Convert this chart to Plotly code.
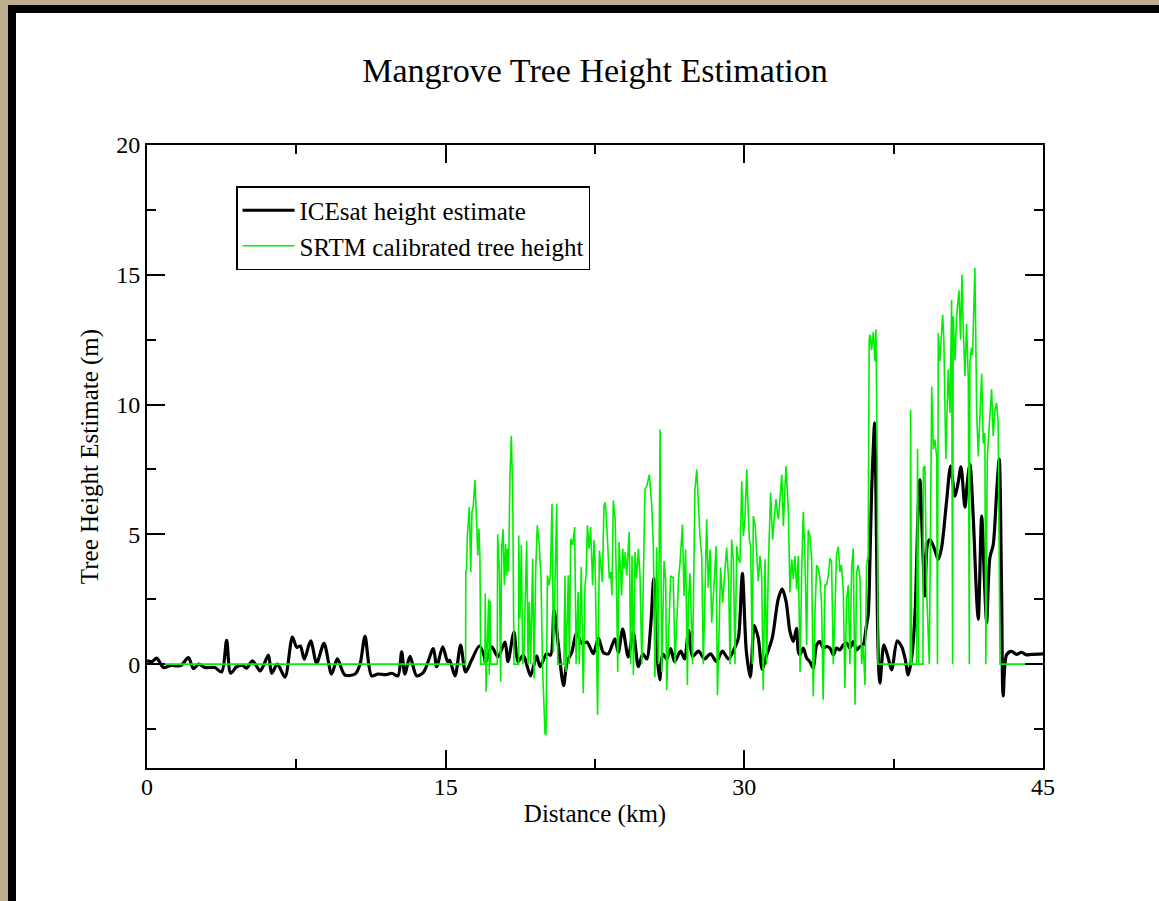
import plotly.graph_objects as go

# ---------------- data ----------------
ICESAT_X = [0, 0.25, 0.49, 0.82, 1.2, 1.7, 2.08, 2.33, 2.6, 2.9, 3.4, 3.75, 4.0, 4.2, 4.5, 4.8, 5.0, 5.3,
            5.68, 5.85, 6.1, 6.26, 6.55, 6.93, 7.3, 7.52, 7.7, 7.9, 8.22, 8.52, 8.89, 9.27, 9.56, 9.94,
            10.45, 10.7, 10.95, 11.28, 11.6, 12.0, 12.3, 12.6, 12.79, 12.95, 13.21, 13.54, 13.9, 14.38,
            14.55, 14.85, 15.1, 15.2, 15.47, 15.75, 16.0, 16.3, 16.69, 16.95, 17.0, 17.31, 17.63, 17.98,
            18.13, 18.43, 18.63, 18.9, 19.1, 19.27, 19.57, 19.74, 20.07, 20.27, 20.44, 20.66, 20.92, 21.1,
            21.33, 21.58, 21.83, 22.1, 22.42, 22.67, 22.92, 23.17, 23.5, 23.67, 23.89, 24.17, 24.42, 24.68,
            24.9, 25.1, 25.3, 25.45, 25.6, 25.75, 25.9, 26.1, 26.3, 26.5, 26.8, 27.0, 27.2, 27.4, 27.7,
            28.0, 28.3, 28.6, 28.9, 29.2, 29.5, 29.7, 29.9, 30.1, 30.3, 30.5, 30.7, 30.9, 31.1, 31.4, 31.7,
            31.9, 32.1, 32.29, 32.46, 32.62, 32.71, 32.79, 32.96, 33.13, 33.29, 33.46, 33.63, 33.8, 33.96,
            34.13, 34.3, 34.47, 34.63, 34.8, 34.97, 35.14, 35.3, 35.47, 35.64, 35.81, 35.97, 36.11, 36.22,
            36.31, 36.39, 36.48, 36.54, 36.61, 36.68, 36.74, 36.81, 37.01, 37.23, 37.4, 37.68, 37.9, 38.07,
            38.23, 38.4, 38.57, 38.73, 38.82, 38.95, 39.07, 39.19, 39.32, 39.52, 39.74, 39.91, 40.16, 40.36,
            40.58, 40.74, 40.88, 41.08, 41.2, 41.33, 41.5, 41.67, 41.75, 41.92, 42.08, 42.17, 42.33, 42.5,
            42.67, 42.8, 42.92, 43.0, 43.17, 43.42, 43.67, 43.92, 44.17, 44.42, 45.0]
ICESAT_Y = [0.13, 0.1, 0.23, -0.13, -0.05, -0.05, 0.25, -0.17, 0.0, -0.13, -0.13, -0.3, 0.92, -0.35, -0.1,
            -0.05, -0.15, 0.13, -0.26, -0.05, 0.35, -0.35, 0.0, -0.5, 1.04, 0.65, 0.7, 0.19, 0.9, 0.04, 0.8,
            -0.38, 0.2, -0.42, -0.38, 0.0, 1.07, -0.45, -0.38, -0.4, -0.35, -0.45, 0.47, -0.38, 0.3, -0.45,
            -0.3, 0.6, -0.1, 0.67, 0.1, 0.15, -0.45, 0.73, -0.3, 0.15, 0.7, 0.28, 0.05, 0.67, 0.28, 0.85,
            0.1, 1.24, 0.1, 0.35, -0.1, -0.45, 0.32, -0.1, 0.4, 0.35, 2.1, 0.73, -0.83, 0.1, 0.45, 1.23,
            0.8, 0.85, 0.4, 1.0, 0.45, 0.4, 0.98, 0.45, 1.35, 0.28, 1.23, -0.1,
            0.4, 0.2, 1.5, 3.3, 0.5, -0.6, 0.4, 0.2, 0.6, 0.1, 0.5, 0.2, 1.3, 0.3, 0.5,
            0.2, 0.4, 0.1, 0.5, 0.2, 0.6, 1.0, 3.5, 0.5, -0.5, 1.5, 1.0, -0.2, 0.3, 1.0, 2.5,
            2.9, 2.4, 1.26, 0.87, 1.38, 0.49, 0.36, 0.62, 0.23, 0.1, -0.15, 0.74, 0.87, 0.62,
            0.68, 0.62, 0.36, 0.62, 0.55, 0.74, 0.81, 0.62, 0.87, 0.55, 0.68, 0.74, 1.38, 1.9,
            4.1, 6.6, 8.4, 9.3, 6.6, 2.1, 0.0, -0.73, 0.74, 0.23, -0.22, 0.9, 0.68, 0.23,
            -0.41, 0.23, 1.9, 5.96, 7.1, 4.7, 2.63, 4.6, 4.8, 4.5, 4.04, 4.5, 6.3, 7.63,
            6.47, 7.0, 7.6, 6.05, 7.0, 7.7, 5.6, 2.5, 1.73, 5.7, 2.8, 1.6, 4.1, 4.6,
            6.6, 7.9, 2.8, -1.22, 0.36, 0.49, 0.38, 0.46, 0.36, 0.38, 0.4]

SRTM_X = [0, 16.0, 16.01, 16.05, 16.09, 16.19, 16.26, 16.32, 16.39, 16.47, 16.56, 16.61, 16.67, 16.72,
          16.76, 16.97, 16.99, 17.03, 17.06, 17.16, 17.19, 17.23, 17.26, 17.59, 17.61, 17.70, 17.76,
          17.81, 17.88, 17.95, 18.01, 18.06, 18.11, 18.16, 18.23, 18.30, 18.37, 18.43, 18.66, 18.67,
          18.73, 18.80, 18.87, 18.93, 19.07, 19.14, 19.20, 19.27, 19.37, 19.44, 19.52, 19.60, 19.69,
          19.74, 19.79, 19.86, 19.99, 20.04, 20.11, 20.19, 20.26, 20.34, 20.41, 20.58, 20.63, 20.94,
          20.99, 21.04, 21.16, 21.21, 21.28, 21.38, 21.48, 21.55, 21.65, 21.71, 21.81, 21.91, 22.00,
          22.05, 22.12, 22.20, 22.28, 22.38, 22.45, 22.50, 22.58, 22.63, 22.72, 22.80, 22.87, 22.95,
          23.02, 23.09, 23.14, 23.22, 23.29, 23.35, 23.42, 23.51, 23.59, 23.64, 23.71, 23.77, 23.84,
          23.89, 23.96, 24.02, 24.09, 24.17, 24.22, 24.29, 24.36, 24.43, 24.51, 24.59, 24.68, 24.76,
          24.85, 25.01, 25.10, 25.23, 25.35, 25.43, 25.51, 25.60, 25.68, 25.77, 25.85, 25.97, 26.05,
          26.10, 26.30, 26.43, 26.52, 26.70, 26.77, 26.89, 26.97, 27.05, 27.14, 27.19, 27.27, 27.40,
          27.52, 27.61, 27.69, 27.77, 27.86, 27.94, 28.11, 28.19, 28.28, 28.36, 28.48, 28.58, 28.65,
          28.81, 28.91, 29.03, 29.11, 29.21, 29.28, 29.36, 29.45, 29.53, 29.62, 29.70, 29.78, 29.87,
          29.95, 30.03, 30.12, 30.25, 30.32, 30.40, 30.45, 30.54, 30.62, 30.70, 30.79, 30.87, 30.95,
          31.04, 31.12, 31.21, 31.32, 31.42, 31.51, 31.59, 31.66, 31.71, 31.79, 31.88, 31.96, 32.09,
          32.21, 32.29, 32.38, 32.46, 32.54, 32.63, 32.71, 32.80, 32.88, 32.96, 33.04, 33.13, 33.21,
          33.29, 33.38, 33.46, 33.55, 33.63, 33.71, 33.80, 33.88, 33.96, 34.05, 34.13, 34.22, 34.30,
          34.38, 34.47, 34.55, 34.63, 34.72, 34.80, 34.88, 34.97, 35.05, 35.14, 35.22, 35.30, 35.39,
          35.47, 35.56, 35.64, 35.72, 35.81, 35.89, 35.97, 36.06, 36.14, 36.22, 36.27, 36.31, 36.39,
          36.48, 36.56, 36.61, 36.68, 36.71, 38.33, 38.35, 38.40, 38.65, 38.70, 38.75, 38.97, 38.99,
          39.07, 39.15, 39.29, 39.41, 39.49, 39.57, 39.66, 39.70, 39.74, 39.82, 39.91, 39.96, 40.02,
          40.12, 40.24, 40.33, 40.41, 40.46, 40.49, 40.58, 40.66, 40.78, 40.86, 40.93, 40.99, 41.08,
          41.16, 41.25, 41.30, 41.33, 41.41, 41.46, 41.58, 41.67, 41.75, 41.83, 41.92, 42.00, 42.08,
          42.13, 42.20, 42.33, 42.42, 42.50, 42.59, 42.67, 42.75, 42.84, 44.09]
SRTM_Y = [0, 0, 3.55, 3.68, 4.96, 6.05, 3.55, 5.86, 6.12, 7.1, 5.35, 4.19, 5.22, 4.19,
          0, 0, 2.72, -1.06, 0, 2.5, -0.4, 2.44, 0, 0, 5.0, 3.55, -0.68,
          4.45, 5.2, 3.04, 4.64, 3.42, 4.45, 3.55, 7.33, 8.8, 6.37, 0, 0, 4.96,
          1.76, 4.58, 0, 0.41, 4.74, 0, 2.4, 0, 4.06, -0.55, 3.55, 5.35, 4.7,
          3.68, 3.3, 0, -2.67, -2.73, 3.42, 3.04, 3.42, 6.18, 0.47, 6.18, 0, 0,
          3.42, -0.3, 3.42, 0, 4.83, 4.58, 5.28, 0, 2.78, 0, 3.74, -1.12, 3.04,
          3.42, 5.35, 4.45, 5.28, 3.04, 4.77, 4.06, 0, -1.96, 4.38, 3.81, 3.17, 6.1,
          6.24, 5.35, 4.32, 3.3, 3.55, 2.65, 6.3, 5.6, 2.53, -0.3, 4.7, 3.94, 2.65,
          4.45, 3.68, 4.32, 3.42, 4.45, 5.09, 0, 4.19, -0.42, 4.32, 3.3, 4.45, 3.42,
          0, 6.73, 6.86, 7.3, 6.1, 4.55, -0.5, 4.5, 0, 9.04, -0.3, 3.97, 3.27,
          -1.0, 3.4, 3.33, 0, 3.33, 3.9, 5.38, 2.63, 4.42, -0.8, 2.37, 3.5, 0,
          6.73, 7.5, 5.83, 4.94, 4.17, 0, 5.58, 2.94, 4.42, 1.6, 3.08, 4.55, -1.2,
          3.72, 2.37, 3.65, 4.49, 3.27, 0, 4.8, 4.04, 0, 4.55, 4.04, 3.91, 7.05,
          4.94, 5.58, 7.5, 4.8, 4.55, 0, 5.7, 5.38, 4.17, 3.2, 4.17, 3.4, -1.0,
          4.04, 0, 3.91, 6.6, 4.8, 5.7, 6.35, 5.83, 5.58, 6.35, 7.3, 5.32, 7.63,
          5.96, 2.76, 4.04, 3.27, 4.17, 2.88, 4.17, -0.3, 3.56, 5.87, 4.26, 0.74, 5.17,
          4.97, 4.1, -1.24, 2.03, 3.82, 3.7, 3.31, 2.28, -1.37, 3.05, 3.05, 3.44, 4.08,
          3.95, 0, 2.03, 4.21, 4.53, 3.56, 3.82, 2.8, -0.92, 2.54, 3.05, 0, 3.7,
          4.46, -1.56, 3.56, 3.82, 3.31, 0, 0.74, -0.8, 3.82, 4.2, 12.5, 12.7, 12.1,
          12.8, 11.67, 12.9, 7.5, 0, 0, 9.8, 0, 0, 8.3, 0, 0, 7.56,
          7.63, 3.0, 0, 10.7, 8.27, 8.65, 7.99, 0, 12.76, 11.67, 12.63, 13.46, 12.5,
          7.9, 11.35, 9.68, 14.04, 0, 13.4, 11.7, 13.4, 14.4, 12.5, 15.0, 13.0, 11.1,
          13.1, 10.96, 0, 11.6, 12.2, 11.9, 15.26, 9.68, 8.0, 9.3, 11.2, 8.5, 8.9,
          0, 7.9, 9.55, 10.6, 8.78, 9.8, 10.06, 9.3, 0, 0]

X_TICKS = [0, 15, 30, 45]
Y_TICKS = [0, 5, 10, 15, 20]

TITLE = "Mangrove Tree Height Estimation"
X_LABEL = "Distance (km)"
Y_LABEL = "Tree Height Estimate (m)"
NAMES = ["ICEsat height estimate", "SRTM calibrated tree height"]

# ---------------- figure ----------------
W, H = 1159, 901
L, R, T, B = 147, 116, 145, 133
PW, PH = W - L - R, H - T - B


def px(x):
    return (x - L) / PW


def py(y):
    return (H - B - y) / PH


FONT = "Liberation Serif, Times New Roman, serif"

fig = go.Figure()
fig.add_trace(go.Scatter(x=ICESAT_X, y=ICESAT_Y, mode="lines", name=NAMES[0],
                         line=dict(color="black", width=3.2, shape="spline", smoothing=0.8)))
fig.add_trace(go.Scatter(x=SRTM_X, y=SRTM_Y, mode="lines", name=NAMES[1],
                         line=dict(color="#00ee00", width=1.6)))

axis_common = dict(showline=True, linecolor="black", linewidth=2, mirror="ticks",
                   ticks="inside", ticklen=18, tickwidth=2, tickcolor="black",
                   showgrid=False, zeroline=False,
                   tickfont=dict(family=FONT, size=24, color="black"))

fig.update_xaxes(range=[0, 45], tickvals=X_TICKS, ticktext=[str(v) for v in X_TICKS],
                 ticklabelstandoff=-4,
                 minor=dict(ticks="inside", ticklen=9, tickwidth=2, tickcolor="black", tick0=0, dtick=7.5),
                 title=dict(text=X_LABEL, font=dict(family=FONT, size=25, color="black"), standoff=6),
                 **axis_common)
fig.update_yaxes(range=[-4, 20], tickvals=Y_TICKS, ticktext=[str(v) for v in Y_TICKS],
                 minor=dict(ticks="inside", ticklen=9, tickwidth=2, tickcolor="black", tick0=0, dtick=2.5),
                 title=dict(text=Y_LABEL, font=dict(family=FONT, size=25, color="black"), standoff=10),
                 **axis_common)

shapes = [
    dict(type="rect", xref="paper", yref="paper", x0=px(8), x1=px(1170), y0=py(920), y1=py(5),
         fillcolor="black", line=dict(width=0), layer="below"),
    dict(type="rect", xref="paper", yref="paper", x0=px(16), x1=px(1170), y0=py(920), y1=py(13),
         fillcolor="white", line=dict(width=0), layer="below"),
]

fig.update_layout(
    width=W, height=H, autosize=False,
    margin=dict(l=L, r=R, t=T, b=B),
    paper_bgcolor="#bcae8c", plot_bgcolor="white",
    title=dict(text=TITLE, x=0.5, xref="paper", y=1 - 70 / H, yref="container",
               xanchor="center", yanchor="middle",
               font=dict(family=FONT, size=34, color="black")),
    legend=dict(x=px(236), y=py(186), xanchor="left", yanchor="top",
                bgcolor="white", bordercolor="black", borderwidth=1.5,
                itemwidth=52,
                font=dict(family=FONT, size=25, color="black")),
    shapes=shapes,
    font=dict(family=FONT, color="black"),
)

fig.write_html("out.html")
